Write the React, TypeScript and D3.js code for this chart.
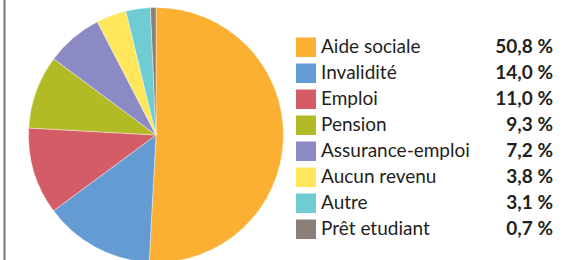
import React from "react";
import * as d3 from "d3";

const categories = ["Aide sociale", "Invalidité", "Emploi", "Pension", "Assurance-emploi", "Aucun revenu", "Autre", "Prêt etudiant"];
const values = [50.8, 14.0, 11.0, 9.3, 7.2, 3.8, 3.1, 0.7];
const valueLabels = ["50,8 %", "14,0 %", "11,0 %", "9,3 %", "7,2 %", "3,8 %", "3,1 %", "0,7 %"];
const colors = ["#FBB034", "#659BD3", "#D45C67", "#B2BA26", "#8C8AC4", "#FFE65A", "#6FCCD3", "#8A8079"];

export default function App() {
  const W = 570, H = 260;
  const cx = 156, cy = 135, r = 127.5;
  const pie = d3.pie<number>().sort(null).value((d) => d)(values);
  const arc = d3.arc<d3.PieArcDatum<number>>().innerRadius(0).outerRadius(r);
  const rowY = d3.scaleLinear().domain([0, 1]).range([37.5, 63.5]);
  return (
    <svg width={W} height={H} style={{ position: "absolute", left: 0, top: 0, background: "#fff" }}>
      <line x1={4.5} x2={4.5} y1={0} y2={H} stroke="#777" strokeWidth={2} />
      <g transform={`translate(${cx},${cy})`}>
        {pie.map((p, i) => (
          <path key={i} d={arc(p) || ""} fill={colors[i]} stroke="#fff" strokeWidth={0.4} />
        ))}
      </g>
      {categories.map((c, i) => {
        const y = rowY(i);
        return (
          <g key={c}>
            <rect x={296} y={y} width={20} height={19.5} fill={colors[i]} />
            <text x={321} y={y + 15.5} fontFamily="Lato" fontSize={19} fill="#231F20">{c}</text>
            <text x={553} y={y + 15.5} fontFamily="Lato" fontWeight="bold" fontSize={19} fill="#231F20" textAnchor="end">{valueLabels[i]}</text>
          </g>
        );
      })}
    </svg>
  );
}
